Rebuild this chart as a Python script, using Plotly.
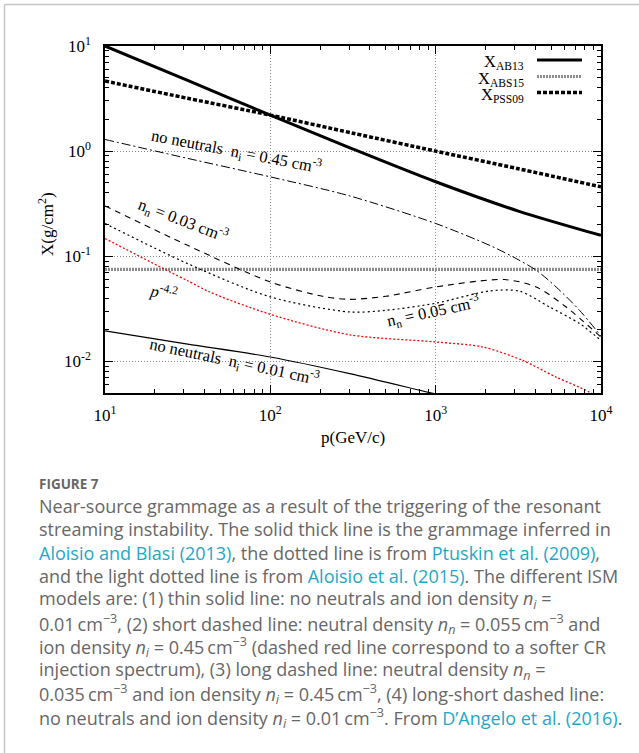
import plotly.graph_objects as go

# ---- data -------------------------------------------------------------
# grammage curves X(p) in g/cm^2 versus momentum p in GeV/c
p_ab13 = [10, 31.6, 100, 316, 1000, 3162, 10000]
x_ab13 = [10, 4.70, 2.20, 1.047, 0.511, 0.269, 0.158]

p_pss09 = [10, 31.6, 100, 316, 1000, 3162, 10000]
x_pss09 = [4.64, 3.18, 2.20, 1.48, 1.00, 0.68, 0.457]

p_abs15 = [10, 10000]
x_abs15 = [0.075, 0.075]

# no neutrals, n_i = 0.45 cm^-3 (long-short dashed)
p_ni045 = [10, 31.6, 100, 302, 1000, 2218, 3069, 4055, 5354, 7413, 10000]
x_ni045 = [1.29, 0.853, 0.569, 0.375, 0.205, 0.123, 0.095, 0.0736, 0.051, 0.0306, 0.0174]

# n_n = 0.03 cm^-3 (long dashed)
p_nn003 = [10, 31.6, 100, 207, 302, 500, 1000, 2600, 4055, 6151, 10000]
x_nn003 = [0.301, 0.127, 0.0569, 0.0416, 0.0389, 0.0416, 0.051, 0.060, 0.051, 0.0329, 0.0170]

# n_n = 0.05 cm^-3 (short dashed)
p_nn005 = [10, 31.6, 100, 302, 500, 1000, 2133, 3219, 4887, 7413, 10000]
x_nn005 = [0.205, 0.0851, 0.041, 0.0295, 0.0306, 0.0357, 0.0468, 0.0465, 0.0329, 0.0229, 0.0158]

# softer injection spectrum (red dotted)
p_soft = [10, 23.6, 31.6, 43, 100, 302, 1000, 1927, 3365, 5354, 8505, 10000]
x_soft = [0.1475, 0.0736, 0.0585, 0.0457, 0.028, 0.0179, 0.0153, 0.0137, 0.0102, 0.00708, 0.0051, 0.0042]

# no neutrals, n_i = 0.01 cm^-3 (thin solid)
p_ni001 = [10, 31.6, 100, 302, 920, 1000]
x_ni001 = [0.0195, 0.0146, 0.011, 0.00764, 0.00504, 0.0049]

x_tickvals = [10, 100, 1000, 10000]
x_ticktext = ["10<sup>1</sup>", "10<sup>2</sup>", "10<sup>3</sup>", "10<sup>4</sup>"]
y_tickvals = [10, 1, 0.1, 0.01]
y_ticktext = ["10<sup>1</sup>", "10<sup>0</sup>", "10<sup>-1</sup>", "10<sup>-2</sup>"]

# minor ticks at 2..9 within each decade
x_minor = [m * 10 ** d for d in (1, 2, 3) for m in range(2, 10)]
y_minor = [m * 10.0 ** d for d in (-3, -2, -1, 0) for m in range(2, 10)]
y_minor = [v for v in y_minor if 0.005 <= v <= 10]

caption_lines = [
    "Near-source grammage as a result of the triggering of the resonant",
    "streaming instability. The solid thick line is the grammage inferred in",
    "{L}Aloisio and Blasi (2013){E}, the dotted line is from {L}Ptuskin et al. (2009){E},",
    "and the light dotted line is from {L}Aloisio et al. (2015){E}. The different ISM",
    "models are: (1) thin solid line: no neutrals and ion density <i>n<sub>i</sub></i> =",
    "0.01\u2009cm<sup>\u22123</sup>, (2) short dashed line: neutral density <i>n<sub>n</sub></i> = 0.055\u2009cm<sup>\u22123</sup> and",
    "ion density <i>n<sub>i</sub></i> = 0.45\u2009cm<sup>\u22123</sup> (dashed red line correspond to a softer CR",
    "injection spectrum), (3) long dashed line: neutral density <i>n<sub>n</sub></i> =",
    "0.035\u2009cm<sup>\u22123</sup> and ion density <i>n<sub>i</sub></i> = 0.45\u2009cm<sup>\u22123</sup>, (4) long-short dashed line:",
    "no neutrals and ion density <i>n<sub>i</sub></i> = 0.01\u2009cm<sup>\u22123</sup>. From {L}D\u2019Angelo et al. (2016){E}.",
]

# ---- layout geometry (pixels) ----------------------------------------
W, H = 639, 753
PL, PR, PT, PB = 105, 601, 46, 393


def px(xp):
    return (xp - PL) / (PR - PL)


def py(yp):
    return (PB - yp) / (PB - PT)


SERIF = "Liberation Serif"
SANS = "Open Sans"
TEXT_GREY = "#676767"
LINK = "#1ea7c8"

fig = go.Figure()


def curve(px_, py_, color, width, dash, shape="spline"):
    fig.add_trace(go.Scatter(
        x=px_, y=py_, mode="lines",
        line=dict(color=color, width=width, dash=dash, shape=shape, smoothing=0.8),
        showlegend=False, hoverinfo="skip",
    ))


curve(p_abs15, x_abs15, "#8e8e8e", 3.2, "2px,1px", shape="linear")
curve(p_ni001, x_ni001, "black", 1.2, "solid")
curve(p_soft, x_soft, "#ff0000", 1.3, "2px,2px")
curve(p_nn005, x_nn005, "black", 1.2, "2px,3px")
curve(p_nn003, x_nn003, "black", 1.1, "6px,5px")
curve(p_ni045, x_ni045, "black", 1.0, "9px,3px,2px,3px")
curve(p_pss09, x_pss09, "black", 3.5, "4px,2px")
curve(p_ab13, x_ab13, "black", 3.0, "solid")

tick_font = dict(family=SERIF, size=17, color="black")
axis_common = dict(
    type="log",
    showline=True, linecolor="black", linewidth=1.5, mirror="all",
    ticks="inside", ticklen=8, tickwidth=1, tickcolor="black",
    showgrid=True, gridcolor="#8a8a8a", gridwidth=1, griddash="1px,2px",
    zeroline=False,
)

fig.update_xaxes(
    **axis_common,
    range=[1, 4],
    tickmode="array", tickvals=x_tickvals, ticktext=x_ticktext,
    tickfont=tick_font,
    ticklabelstandoff=6,
    minor=dict(tickmode="array", tickvals=x_minor, ticks="inside", ticklen=4,
               tickwidth=1, tickcolor="black", showgrid=False),
)
fig.update_yaxes(
    **axis_common,
    range=[-2.301, 1],
    tickmode="array", tickvals=y_tickvals, ticktext=y_ticktext,
    tickfont=tick_font,
    ticklabelstandoff=9,
    minor=dict(tickmode="array", tickvals=y_minor, ticks="inside", ticklen=4,
               tickwidth=1, tickcolor="black", showgrid=False),
)

ann = []

# axis titles
ann.append(dict(x=px(353), y=py(437), xref="paper", yref="paper", text="p(GeV/c)",
                xanchor="center", yanchor="middle",
                showarrow=False, font=dict(family=SERIF, size=17, color="black")))
ann.append(dict(x=px(46), y=py(224), xref="paper", yref="paper", text="X(g/cm<sup>2</sup>)",
                xanchor="center", yanchor="middle",
                textangle=-90, showarrow=False, font=dict(family=SERIF, size=17, color="black")))

# curve labels
labels = [
    ("no neutrals  n<sub>i</sub> = 0.45 cm<sup>-3</sup>", 236, 151, 11),
    ("n<sub>n</sub> = 0.03 cm<sup>-3</sup>", 183, 220, 21),
    ("<i>p</i><sup>-4.2</sup>", 164, 292, 12),
    ("n<sub>n</sub> = 0.05 cm<sup>-3</sup>", 433, 311, -12),
    ("no neutrals  n<sub>i</sub> = 0.01 cm<sup>-3</sup>", 234, 361, 12),
]
for txt, lx, ly, ang in labels:
    ann.append(dict(x=px(lx), y=py(ly), xref="paper", yref="paper", text=txt,
                    textangle=ang, showarrow=False, xanchor="center", yanchor="middle",
                    font=dict(family=SERIF, size=16.5, color="black")))

# key: text right-aligned, line sample to the right
key = [
    ("X<sub>AB13</sub>", 60, dict(color="black", width=3, dash="solid")),
    ("X<sub>ABS15</sub>", 76.5, dict(color="#8e8e8e", width=3, dash="2px,1px")),
    ("X<sub>PSS09</sub>", 92.5, dict(color="black", width=3.5, dash="4px,2px")),
]
shapes = []
for txt, ky, ln in key:
    ann.append(dict(x=px(526), y=py(ky + 2), xref="paper", yref="paper", text=txt,
                    showarrow=False, xanchor="right", yanchor="middle",
                    font=dict(family=SERIF, size=16.5, color="black")))
    shapes.append(dict(type="line", xref="paper", yref="paper",
                       x0=px(537), x1=px(582), y0=py(ky), y1=py(ky), line=ln))

# card frame
shapes.append(dict(type="line", xref="paper", yref="paper", x0=px(4.5), x1=px(4.5),
                   y0=py(4.5), y1=py(760), line=dict(color="#c6c6c6", width=1.5)))
shapes.append(dict(type="line", xref="paper", yref="paper", x0=px(4.5), x1=px(650),
                   y0=py(4.5), y1=py(4.5), line=dict(color="#c6c6c6", width=1.5)))

# caption
ann.append(dict(x=px(37), y=py(484), xref="paper", yref="paper", text="<b>FIGURE 7</b>",
                showarrow=False, xanchor="left", yanchor="middle",
                font=dict(family=SANS, size=13.5, color=TEXT_GREY)))
for i, line in enumerate(caption_lines):
    t = line.replace("{L}", f"<span style='color:{LINK}'>").replace("{E}", "</span>")
    ann.append(dict(x=px(37), y=py(505.5 + i * 23.6), xref="paper", yref="paper", text=t,
                    showarrow=False, xanchor="left", yanchor="middle",
                    font=dict(family=SANS, size=18, color=TEXT_GREY)))

fig.update_layout(
    width=W, height=H,
    margin=dict(l=PL, r=W - PR, t=PT, b=H - PB),
    paper_bgcolor="white", plot_bgcolor="white",
    showlegend=False,
    annotations=ann, shapes=shapes,
)

fig.write_html("out.html")
